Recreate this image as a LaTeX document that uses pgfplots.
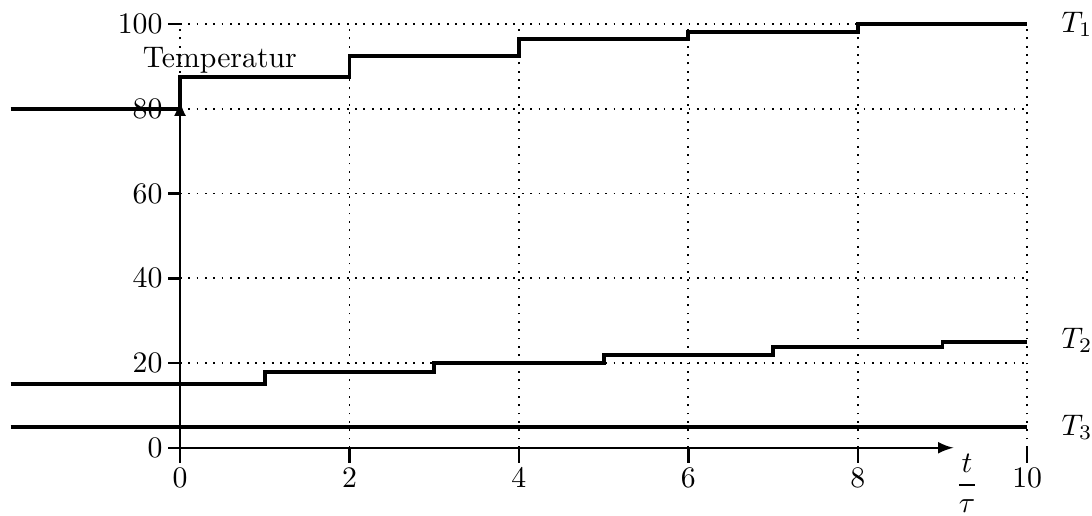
\documentclass[border=0pt]{standalone}
\usepackage{pgfplots}
\pgfplotsset{compat=1.18}
\tikzset{gridsty/.style={line width=0.6pt, dash pattern=on 0.6pt off 2.2pt},
         axsty/.style={line width=0.8pt}}
\begin{document}
\begin{tikzpicture}
\begin{axis}[x=1cm, y=0.05cm, xmin=-2.125, xmax=10, ymin=0, ymax=100,
  hide axis, clip=false]
% grid
\pgfplotsinvokeforeach{20,40,60,80,100}{\draw[gridsty] (axis cs:0,#1) -- (axis cs:10,#1);}
\pgfplotsinvokeforeach{0,2,4,6,8,10}{\draw[gridsty] (axis cs:#1,0) -- (axis cs:#1,100);}
% y ticks
\pgfplotsinvokeforeach{0,20,40,60,80,100}{%
  \draw[axsty] (axis cs:-0.14,#1) -- (axis cs:0,#1);
  \node[anchor=east, inner sep=0pt] at (axis cs:-0.2,#1) {$#1$};}
% x ticks
\pgfplotsinvokeforeach{0,2,4,6,8,10}{%
  \draw[axsty] (axis cs:#1,0) -- (axis cs:#1,-3.5);
  \node[anchor=north, inner sep=0pt] at (axis cs:#1,-4.7) {$#1$};}
% axes
\draw[axsty,-latex] (axis cs:0,-3.5) -- (axis cs:0,82);
\draw[axsty,-latex] (axis cs:-0.14,0) -- (axis cs:9.13,0);
\node[anchor=base, inner sep=0pt] at (axis cs:0.47,89.8) {Temperatur};
\node at (axis cs:9.29,-8.4) {$\displaystyle\frac{t}{\tau}$};
% data
\addplot[const plot, line width=1.3pt, black] coordinates {
  (-2.0,80) (0,87.5) (2,92.5) (4,96.4) (6,98.2) (8,100) (10,100)};
\addplot[const plot, line width=1.3pt, black] coordinates {
  (-2.0,15) (1,17.8) (3,20) (5,22) (7,23.8) (9,25) (10,25)};
\addplot[const plot, line width=1.3pt, black] coordinates {
  (-2.0,5) (10,5)};
% labels
\node[anchor=west, inner sep=0pt] at (axis cs:10.4,100) {$T_1$};
\node[anchor=west, inner sep=0pt] at (axis cs:10.4,25.4) {$T_2$};
\node[anchor=west, inner sep=0pt] at (axis cs:10.4,4.8) {$T_3$};
\coordinate (bl) at (axis cs:-2.125,-16);
\coordinate (tr) at (axis cs:10.765,105.7);
\end{axis}
\pgfresetboundingbox
\useasboundingbox (bl) rectangle (tr);
\end{tikzpicture}
\end{document}
